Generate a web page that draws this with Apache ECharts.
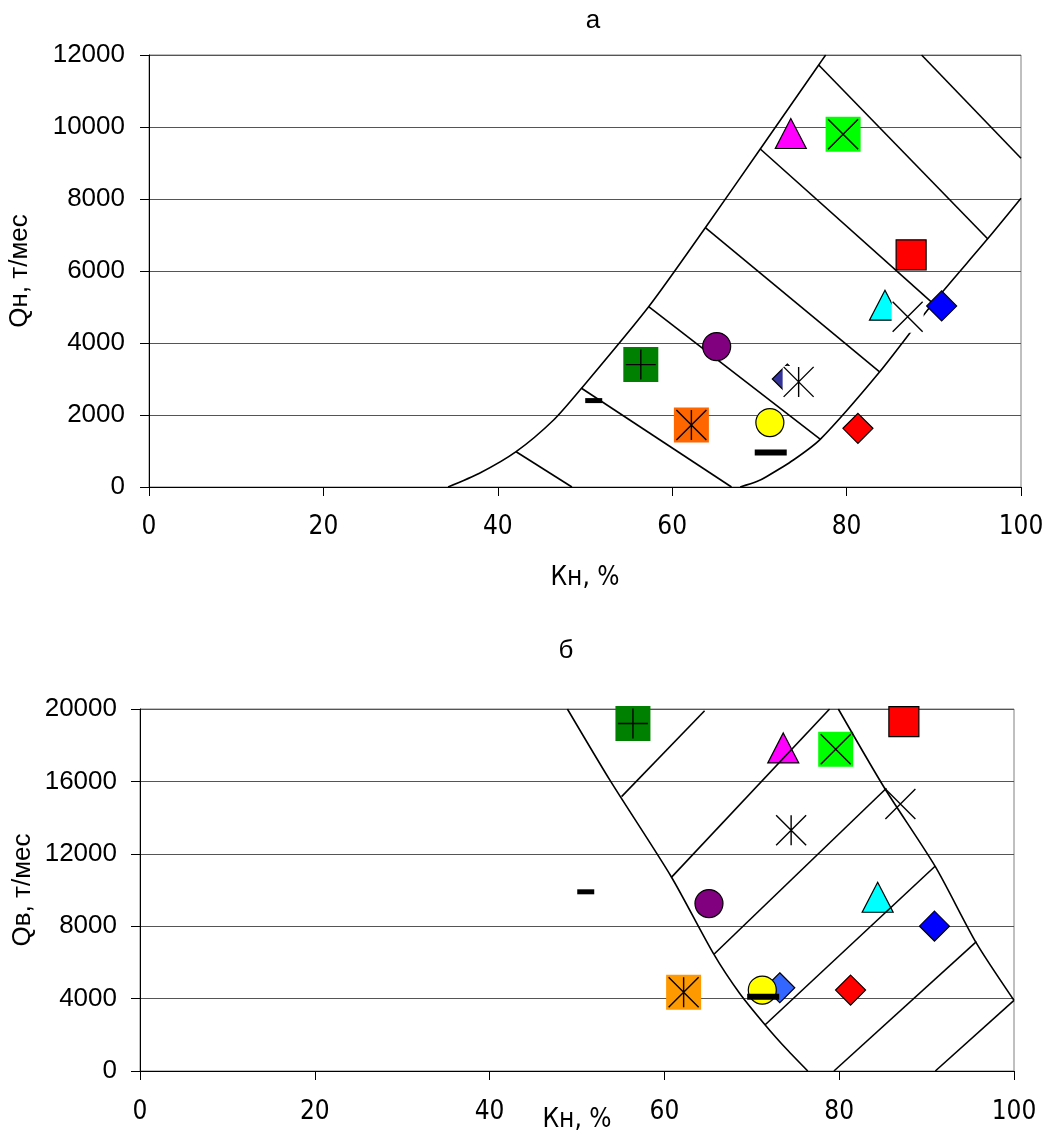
<!DOCTYPE html>
<html><head><meta charset="utf-8">
<script src="https://cdn.jsdelivr.net/npm/echarts@6/dist/echarts.min.js"></script>
<style>html,body{margin:0;padding:0;background:#fff}#c{width:1046px;height:1133px}</style>
</head><body><div id="c"></div>
<script>
// ---- data ----
// Кн, % of each well (same in both panels)
const kn = [73.2, 84.4, 73.6, 79.6, 87.4, 90.9, 65.1, 56.4, 51.0, 62.2, 81.3, 87.0, 74.5, 71.2, 71.3];
// panel а: Qн, т/мес
const qn = [3000, 5050, 9820, 9800, 6450, 5030, 3900, 3400, 2400, 1720, 1630, 4730, 2920, 1790, 960];
// panel б: Qв, т/мес
const qv = [4600, 9600, 17850, 17780, 19300, 8000, 9250, 19200, 9900, 4350, 4470, 14750, 13300, 4470, 4100];

const xTicks = [0, 20, 40, 60, 80, 100];
const qnTicks = [0, 2000, 4000, 6000, 8000, 10000, 12000];
const qvTicks = [0, 4000, 8000, 12000, 16000, 20000];

// zone boundaries, panel а
const topLeftCurve = [[34.3,0],[37.9,380],[42.1,980],[46.4,1860],[49.6,2742],[57.3,5008],[63.8,7203],[70.1,9389],[76.8,11722],[77.6,12000]];
const topRightCurve = [[67.8,0],[69.7,150],[70.8,286],[73.9,750],[77.0,1330],[83.8,3203],[89.9,5103],[96.2,6900],[100,8020]];
const topHatch = [
  [[76.8,11722],[96.2,6890]],
  [[70.1,9389],[89.9,5103]],
  [[63.8,7203],[83.75,3203]],
  [[57.3,5008],[77.0,1325]],
  [[49.6,2742],[66.8,0]],
  [[42.1,980],[48.5,0]],
  [[88.6,12000],[100,9130]]
];
// zone boundaries, panel б
const botLeftCurve = [[48.9,20000],[53.8,16040],[60.8,10720],[65.6,6500],[68.6,4300],[71.7,2450],[74.0,1200],[76.4,0]];
const botRightCurve = [[79.9,20000],[85.2,15620],[91.0,11290],[95.7,7060],[100,3900]];
const botHatch = [
  [[55.1,15160],[64.6,19900]],
  [[60.8,10700],[78.9,20000]],
  [[65.7,6464],[85.4,15619]],
  [[71.5,2541],[91.0,11326]],
  [[79.4,0],[95.7,7144]],
  [[91.0,0],[100,3900]]
];

// ---- marker styles (same order as data arrays) ----
const PX = 'path://M0,0L20,20M20,0L0,20';
const PPLUS = 'path://M10,0L10,20M0,10L20,10';
const PAST = 'path://M0,0L20,20M20,0L0,20M10,0L10,20';
const markerStyles = [
  {symbol:'diamond', size:30, colorTop:'#333399', colorBot:'#3366FF', border:true},
  {symbol:'triangle', size:[31,30], color:'#00FFFF', border:true},
  {symbol:'triangle', size:[31,30], color:'#FF00FF', border:true},
  {symbol:'rect', size:35, color:'#00FF00', border:false, overlay:PX, osize:30},
  {symbol:'rect', size:30, color:'#FF0000', border:true},
  {symbol:'diamond', size:30, color:'#0000FF', border:true},
  {symbol:'circle', size:28, color:'#800080', border:true},
  {symbol:'rect', size:35, color:'#008000', border:false, overlay:PPLUS, osize:30},
  {symbol:'rect', size:[17,5], color:'#000000', border:false},
  {symbol:'rect', size:35, colorTop:'#FF6600', colorBot:'#FF9900', border:false, overlay:PAST, osize:30},
  {symbol:'diamond', size:30, color:'#FF0000', border:true},
  {symbol:'rect', size:32, color:'#FFFFFF', border:false, overlay:PX, osize:30},
  {symbol:'rect', size:32, color:'#FFFFFF', border:false, overlay:PAST, osize:30},
  {symbol:'circle', size:28, color:'#FFFF00', border:true},
  {symbol:'rect', size:[32,6], color:'#000000', border:false}
];

const NARROW = "'Liberation Sans Narrow','Arial Narrow','DejaVu Sans Condensed','Liberation Sans',sans-serif";
const ARIAL = "'Liberation Sans',Arial,sans-serif";

function lineS(data, gi, z) {
  return {type:'line', xAxisIndex:gi, yAxisIndex:gi, data:data, symbol:'none',
    smooth: data.length > 2 ? 0.25 : false,
    lineStyle:{color:'#000', width:1.6}, z:z, silent:true, clip:true};
}
function markers(gi, yVals, variant, z) {
  const out = [];
  markerStyles.forEach(function(m, i) {
    const pt = [[kn[i], yVals[i]]];
    const fill = variant === 'top' ? (m.colorTop || m.color) : (m.colorBot || m.color);
    out.push({type:'scatter', xAxisIndex:gi, yAxisIndex:gi, data:pt, symbol:m.symbol, symbolSize:m.size,
      itemStyle:{color:fill, borderColor:m.border ? '#000' : fill, borderWidth:m.border ? 1.2 : 0, opacity:1},
      z:z, silent:true});
    if (m.overlay) {
      out.push({type:'scatter', xAxisIndex:gi, yAxisIndex:gi, data:pt, symbol:m.overlay, symbolSize:m.osize,
        itemStyle:{color:'rgba(0,0,0,0)', borderColor:'#000', borderWidth:1.4, opacity:1}, z:z, silent:true});
    }
  });
  return out;
}

function xAx(gi, gapName, margin) {
  return {gridIndex:gi, type:'value', min:xTicks[0], max:xTicks[xTicks.length-1], interval:xTicks[1]-xTicks[0],
    axisLine:{show:true, onZero:false, lineStyle:{color:'#000', width:1}},
    axisTick:{show:true, inside:false, length:9, lineStyle:{color:'#000'}},
    splitLine:{show:false},
    axisLabel:{margin:margin, fontSize:26, fontFamily:NARROW, color:'#000', formatter:function(v){return String(v);}},
    name:'Кн, %', nameLocation:'middle', nameGap:gapName, nameMoveOverlap:false,
    nameTextStyle:{fontSize:26, fontFamily:NARROW, color:'#000'}};
}
function yAx(gi, ticks, name, gap, margin) {
  return {gridIndex:gi, type:'value', min:ticks[0], max:ticks[ticks.length-1], interval:ticks[1]-ticks[0],
    axisLine:{show:true, onZero:false, lineStyle:{color:'#000', width:1}},
    axisTick:{show:true, inside:false, length:9, lineStyle:{color:'#000'}},
    splitLine:{show:true, lineStyle:{color:'#555', width:1}},
    axisLabel:{margin:margin, fontSize:26, fontFamily:ARIAL, color:'#000', formatter:function(v){return String(v);}},
    name:name, nameLocation:'middle', nameGap:gap, nameRotate:90, nameMoveOverlap:false,
    nameTextStyle:{fontSize:26, fontFamily:ARIAL, color:'#000'}};
}

const series = [];
series.push(lineS(topLeftCurve, 0, 1), lineS(topRightCurve, 0, 1));
topHatch.forEach(function(h){ series.push(lineS(h, 0, 1)); });
markers(0, qn, 'top', 2).forEach(function(s){ series.push(s); });
markers(1, qv, 'bot', 2).forEach(function(s){ series.push(s); });
series.push(lineS(botLeftCurve, 1, 3), lineS(botRightCurve, 1, 3));
botHatch.forEach(function(h){ series.push(lineS(h, 1, 3)); });

const chart = echarts.init(document.getElementById('c'), null, {renderer:'canvas'});
chart.setOption({
  animation:false,
  backgroundColor:'#fff',
  grid:[
    {left:149, top:55, width:872, height:432, show:true, borderColor:'#808080', borderWidth:1, backgroundColor:'rgba(0,0,0,0)', containLabel:false, outerBoundsMode:'none'},
    {left:140, top:709, width:874, height:362, show:true, borderColor:'#808080', borderWidth:1, backgroundColor:'rgba(0,0,0,0)', containLabel:false, outerBoundsMode:'none'}
  ],
  xAxis:[xAx(0, 78, 27), xAx(1, 36, 28)],
  yAxis:[yAx(0, qnTicks, 'Qн, т/мес', 116, 24), yAx(1, qvTicks, 'Qв, т/мес', 104, 23)],
  graphic:[
    {type:'text', x:593, y:21, style:{text:'а', fill:'#000', font:'26px ' + ARIAL, align:'center', verticalAlign:'middle'}},
    {type:'text', x:566, y:651, style:{text:'б', fill:'#000', font:'26px ' + ARIAL, align:'center', verticalAlign:'middle'}}
  ],
  series:series
});
</script>
</body></html>
